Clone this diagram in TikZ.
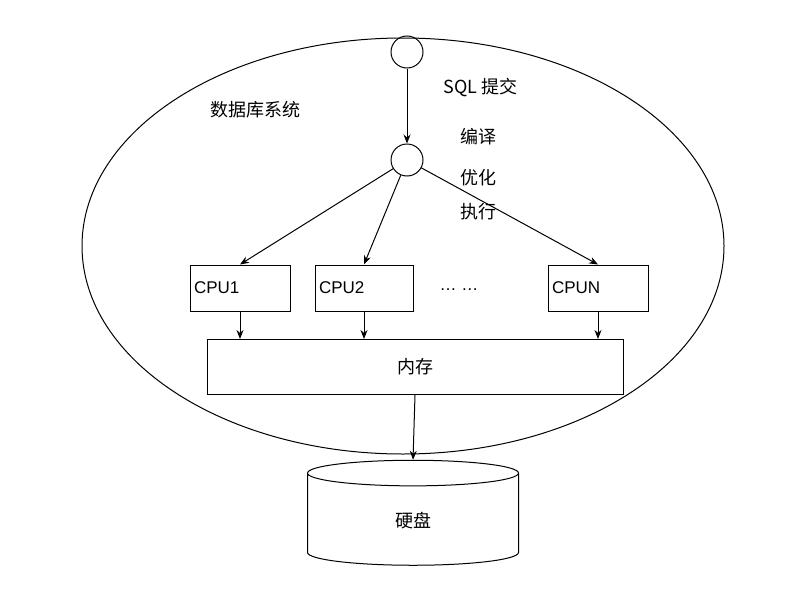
\documentclass[tikz,border=0pt]{standalone}
\usepackage{fontspec}
\setmainfont{Liberation Sans}
\newfontfamily\cjk{Noto Sans CJK SC}
\usetikzlibrary{arrows.meta,shapes.geometric}
\begin{document}
\begin{tikzpicture}[x=1pt,y=-1pt,
  line width=1pt,
  arr/.style={-{Stealth[length=9pt,width=7pt]}},
  box/.style={draw,minimum width=100pt,minimum height=46pt,inner sep=3pt,font=\fontsize{17}{20}\selectfont},
  circ/.style={draw,circle,minimum size=32pt,inner sep=0pt},
  zh/.style={font=\cjk\fontsize{18}{22}\selectfont}]
\useasboundingbox (0,0) rectangle (800,613);
\node[draw,ellipse,minimum width=642pt,minimum height=416pt] (sys) at (403,246) {};
\node[zh] (lbl) at (255,110) {数据库系统};
\node[circ] (c1) at (407,52) {};
\node[circ] (c2) at (407,160) {};
\node[zh,anchor=west] (sql) at (440,88) {SQL 提交};
\node[zh] (t1) at (478,137) {编译};
\node[zh] (t2) at (478,178) {优化};
\node[zh] (t3) at (478,212) {执行};
\node[box,text width=92pt,align=left] (p1) at (240,288) {CPU1};
\node[box,text width=90pt,align=left,minimum width=98pt] (p2) at (364,288) {CPU2};
\node[box,text width=92pt,align=left] (pn) at (598,288) {CPUN};
\node[font=\fontsize{17}{20}\selectfont] (dots) at (459,290) {\dots\ \dots};
\node[draw,minimum width=416pt,minimum height=55pt,zh] (mem) at (415,367) {内存};
\node[draw,cylinder,shape border rotate=90,aspect=0.6,minimum width=211pt,minimum height=105pt,zh] (disk) at (413,521) {硬盘};
\draw[arr] (c1) -- (c2);
\draw[arr] (c2) -- (p1.north);
\draw[arr] (c2) -- (p2.north);
\draw[arr] (c2) -- (pn.north);
\draw[arr] (p1.south) -- (p1.south |- mem.north);
\draw[arr] (p2.south) -- (p2.south |- mem.north);
\draw[arr] (pn.south) -- (pn.south |- mem.north);
\draw[arr] (mem.south) -- (disk.top);
\end{tikzpicture}
\end{document}
